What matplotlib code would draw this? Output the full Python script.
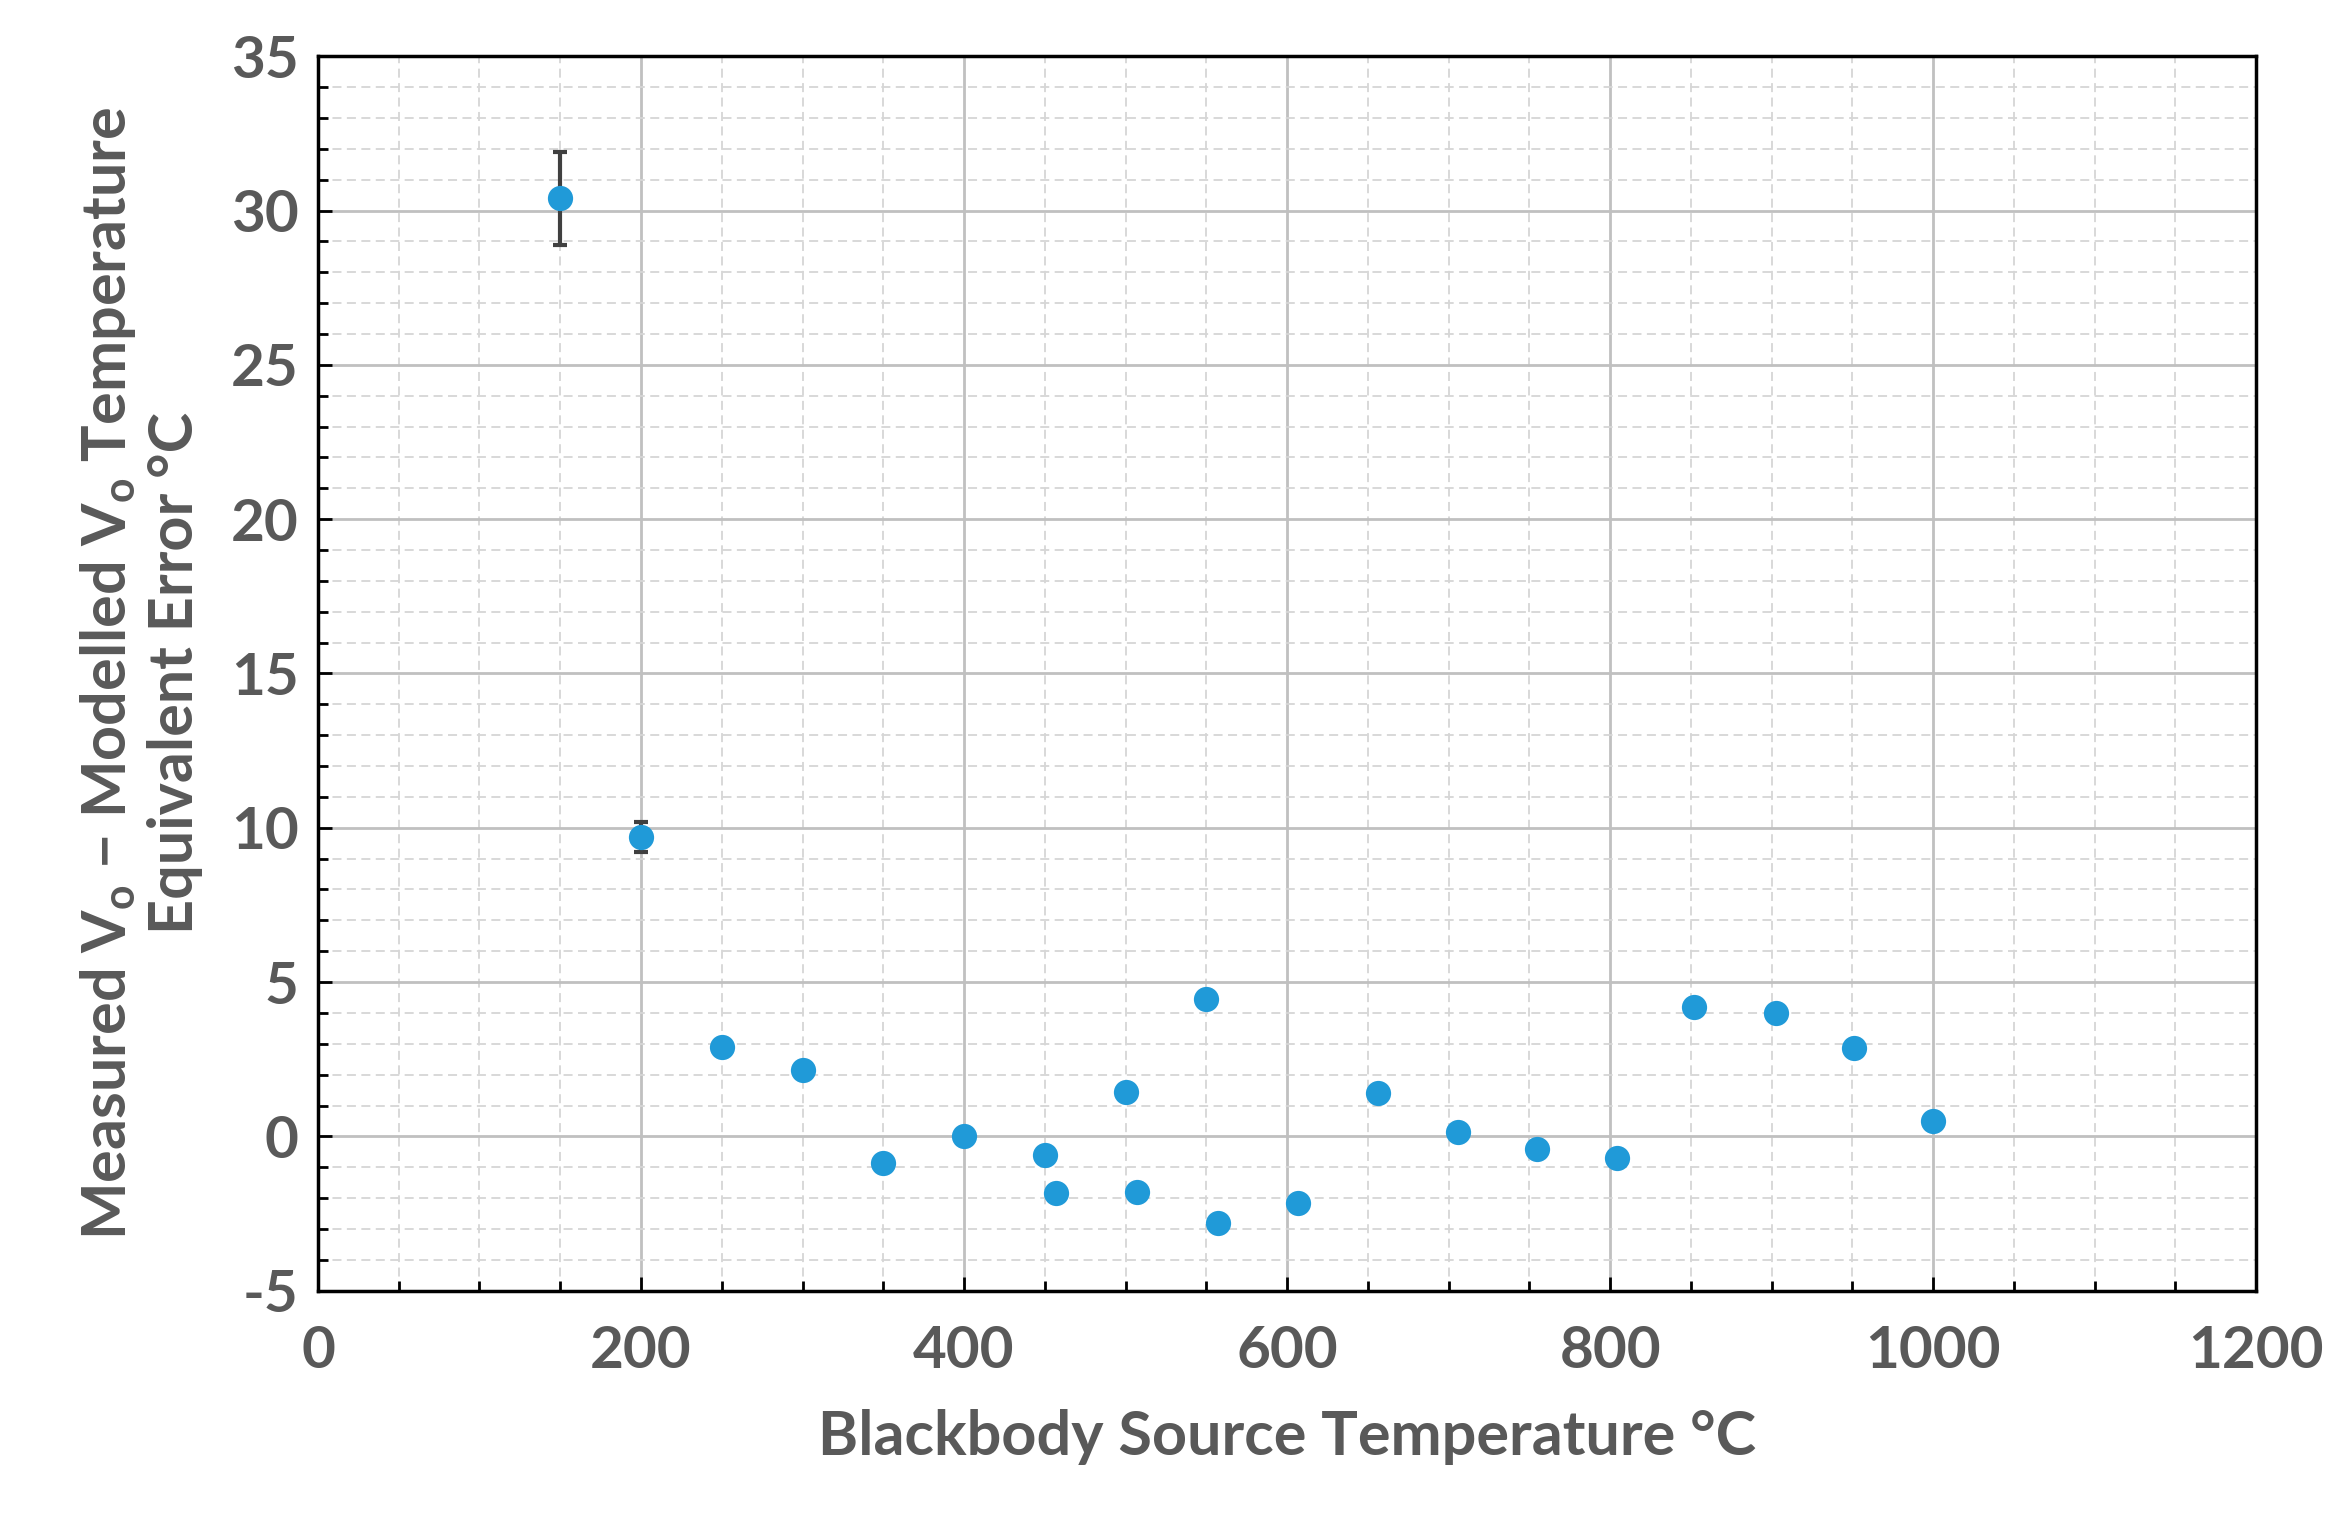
import matplotlib
matplotlib.use("Agg")
import matplotlib.pyplot as plt
from matplotlib.ticker import MultipleLocator

plt.rcParams['font.family'] = ['Lato', 'DejaVu Sans']
plt.rcParams['font.weight'] = 'bold'
plt.rcParams['mathtext.default'] = 'regular'
plt.rcParams['axes.unicode_minus'] = False

x = [150, 200, 250, 300, 350, 400, 450, 457, 500, 507, 550, 557, 607, 656, 706, 755, 804, 852, 903, 951, 1000]
y = [30.4, 9.7, 2.9, 2.15, -0.85, 0.0, -0.6, -1.85, 1.45, -1.8, 4.45, -2.8, -2.15, 1.4, 0.15, -0.4, -0.7, 4.2, 4.0, 2.85, 0.5]
yerr = [1.5, 0.5] + [0]*19

grey = '#595959'
fig = plt.figure(figsize=(23.38, 15.22), dpi=100)
ax = fig.add_axes([0.136, 0.152, 0.829, 0.811])
ax.set_xlim(0, 1200)
ax.set_ylim(-5, 35)
ax.xaxis.set_major_locator(MultipleLocator(200))
ax.xaxis.set_minor_locator(MultipleLocator(50))
ax.yaxis.set_major_locator(MultipleLocator(5))
ax.yaxis.set_minor_locator(MultipleLocator(1))
ax.grid(which='major', color='#c0c0c0', lw=2)
ax.grid(which='minor', color='#d6d6d6', lw=1.3, ls=(0, (5, 3)))
ax.set_axisbelow(True)
ax.errorbar(x, y, yerr=yerr, fmt='none', ecolor='#404040', elinewidth=3, capsize=5, capthick=3, zorder=2)
ax.scatter(x, y, s=330, color='#209ad8', zorder=3, linewidths=0)
for s in ax.spines.values():
    s.set_linewidth(2.5)
    s.set_color('black')
ax.tick_params(which='both', direction='in', colors='black', labelcolor=grey, labelsize=42, width=2)
ax.tick_params(which='major', length=10)
ax.tick_params(which='minor', length=7)
ax.tick_params(axis='x', pad=25)
ax.tick_params(axis='y', pad=14)
ax.set_xlabel('Blackbody Source Temperature °C', fontsize=44, color=grey, labelpad=22, fontweight='bold')
ax.set_ylabel('Measured V$_o$ − Modelled V$_o$ Temperature\nEquivalent Error °C', fontsize=44, color=grey, labelpad=20, fontweight='bold')
fig.savefig('out.png', dpi=100)
